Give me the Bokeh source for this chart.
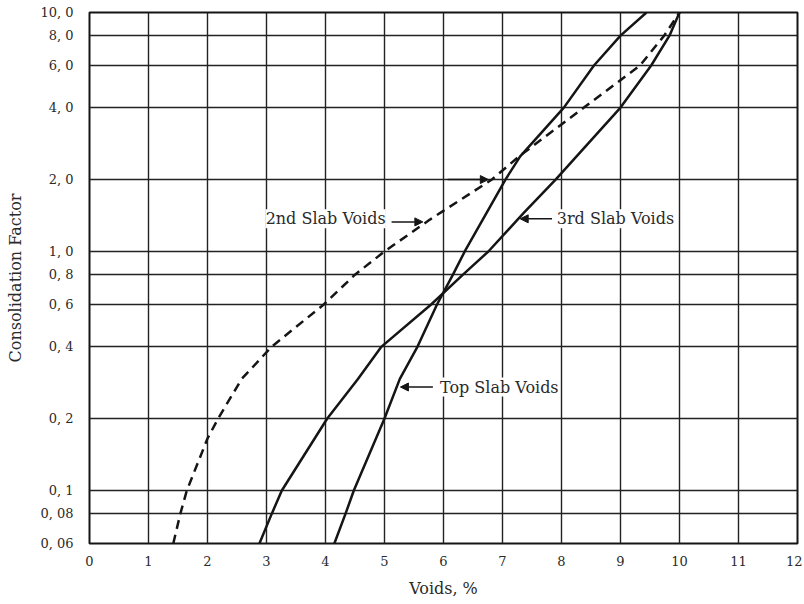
from bokeh.plotting import figure
from bokeh.models import Range1d, FixedTicker, Label, Arrow, NormalHead
from bokeh.embed import file_html
from bokeh.resources import INLINE

# ---- data ----
top_y = [0.06, 0.08, 0.1, 0.2, 0.293, 0.4, 0.6, 0.8, 1.0, 2.0, 2.5, 4.0, 6.0, 8.0, 10.0]
top_x = [4.15, 4.34, 4.48, 5.0, 5.26, 5.56, 5.89, 6.16, 6.36, 7.05, 7.3, 8.04, 8.55, 9.0, 9.44]

third_y = [0.06, 0.08, 0.1, 0.2, 0.293, 0.4, 0.6, 0.8, 1.0, 1.45, 2.0, 4.0, 6.0, 8.0, 10.0]
third_x = [2.88, 3.09, 3.26, 4.03, 4.55, 4.95, 5.79, 6.33, 6.76, 7.36, 7.9, 9.0, 9.52, 9.83, 10.0]

second_y = [0.06, 0.08, 0.1, 0.165, 0.2, 0.293, 0.4, 0.6, 0.8, 1.0, 1.36, 2.0, 2.5, 4.0, 6.0, 8.0, 10.0]
second_x = [1.42, 1.54, 1.65, 2.0, 2.18, 2.58, 3.09, 3.97, 4.5, 5.0, 5.77, 6.82, 7.28, 8.38, 9.33, 9.74, 10.0]

x_ticks = list(range(0, 13))
y_ticks = [0.06, 0.08, 0.1, 0.2, 0.4, 0.6, 0.8, 1.0, 2.0, 4.0, 6.0, 8.0, 10.0]
y_tick_labels = ["0, 06", "0, 08", "0, 1", "0, 2", "0, 4", "0, 6", "0, 8",
                 "1, 0", "2, 0", "4, 0", "6, 0", "8, 0", "10, 0"]

# annotation texts and anchor points (data units)
ann_texts = ["2nd Slab Voids", "3rd Slab Voids", "Top Slab Voids"]
ann_text_x = [5.02, 7.92, 5.94]
ann_text_y = [1.37, 1.37, 0.271]
ann_align = ["right", "left", "left"]
arrow_from_x = [5.12, 7.84, 5.82, 6.07]
arrow_to_x = [5.65, 7.3, 5.27, 6.76]
arrow_y = [1.33, 1.37, 0.271, 2.0]

FONT = "DejaVu Serif"
INK = "#151515"
TXT = "#2a2a2a"

p = figure(width=802, height=600, output_backend="svg", toolbar_location=None,
           y_axis_type="log",
           x_range=Range1d(0, 12), y_range=Range1d(0.06, 10),
           min_border_left=89, min_border_right=5, min_border_top=12, min_border_bottom=55)

p.background_fill_color = "white"
p.border_fill_color = "white"
p.outline_line_color = INK
p.outline_line_width = 2

p.xaxis.ticker = FixedTicker(ticks=x_ticks)
p.yaxis.ticker = FixedTicker(ticks=y_ticks)
p.xgrid.ticker = FixedTicker(ticks=x_ticks)
p.ygrid.ticker = FixedTicker(ticks=y_ticks)
p.yaxis.major_label_overrides = {t: l for t, l in zip(y_ticks, y_tick_labels)}

for g in (p.xgrid, p.ygrid):
    g.grid_line_color = "#222222"
    g.grid_line_width = 1.4
    g.grid_line_alpha = 1.0

for ax in (p.xaxis, p.yaxis):
    ax.axis_line_color = None
    ax.major_tick_line_color = None
    ax.minor_tick_line_color = None
    ax.major_label_text_font = FONT
    ax.major_label_text_font_size = "13px"
    ax.major_label_text_color = TXT
    ax.axis_label_text_font = FONT
    ax.axis_label_text_font_style = "normal"
    ax.axis_label_text_font_size = "16px"
    ax.axis_label_text_color = TXT

p.xaxis.axis_label = "Voids, %"
p.yaxis.axis_label = "Consolidation Factor"
p.xaxis.major_label_standoff = 6
p.xaxis.axis_label_standoff = 10
p.yaxis.major_label_standoff = 10
p.yaxis.axis_label_standoff = 12

p.line(top_x, top_y, line_color=INK, line_width=2.5)
p.line(third_x, third_y, line_color=INK, line_width=2.5)
p.line(second_x, second_y, line_color=INK, line_width=2.5, line_dash="9 6")

for t, tx, ty, al in zip(ann_texts, ann_text_x, ann_text_y, ann_align):
    p.add_layout(Label(x=tx, y=ty, text=t, text_font=FONT, text_font_size="16px",
                       text_color=TXT, text_align=al, text_baseline="middle",
                       background_fill_color="white"))

for fx, tx, ay in zip(arrow_from_x, arrow_to_x, arrow_y):
    p.add_layout(Arrow(end=NormalHead(size=8, fill_color=INK, line_color=INK),
                       x_start=fx, y_start=ay, x_end=tx, y_end=ay,
                       line_color=INK, line_width=1.5))

open("out.html", "w").write(file_html(p, INLINE))
